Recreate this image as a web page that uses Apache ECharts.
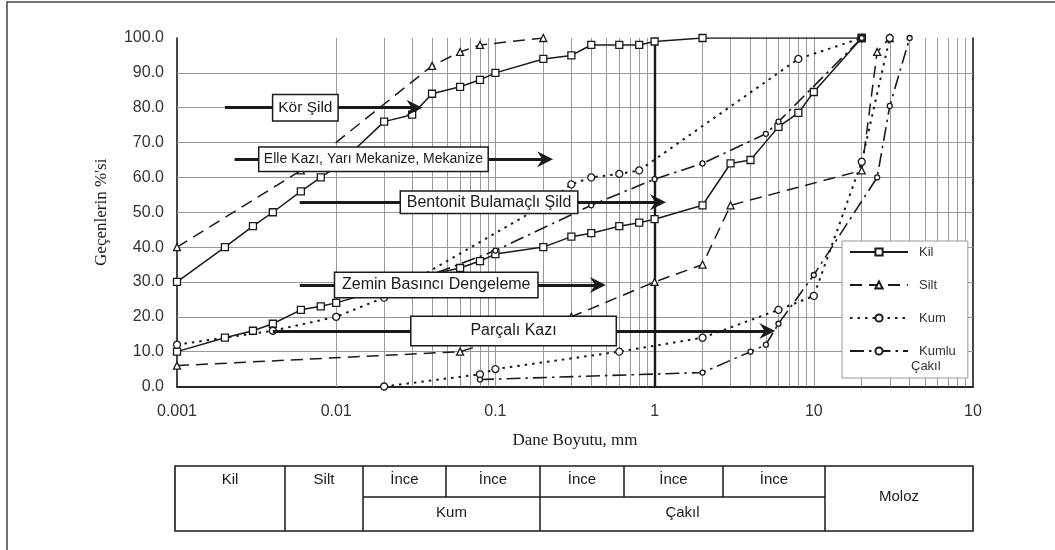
<!DOCTYPE html>
<html><head><meta charset="utf-8">
<script src="https://cdn.jsdelivr.net/npm/echarts@6/dist/echarts.min.js"></script>
<style>html,body{margin:0;padding:0;background:#fff}#c{width:1055px;height:550px}</style>
</head><body><div id="c"></div>
<script>
// ---- tick labels ----
const xTickLabels = ['0.001', '0.01', '0.1', '1', '10', '10'];
const xGridValues = [0.002,0.003,0.004,0.005,0.006,0.007,0.008,0.009,0.01,
  0.02,0.03,0.04,0.05,0.06,0.07,0.08,0.09,0.1,
  0.2,0.3,0.4,0.5,0.6,0.7,0.8,0.9,
  2,3,4,5,6,7,8,9,10,
  20,30,40,50,60,70,80,90];
const yGridValues = [10,20,30,40,50,60,70,80,90];

// ---- series values [size mm, % passing] ----
const kilUpper = [[0.001,30],[0.002,40],[0.003,46],[0.004,50],[0.006,56],[0.008,60],[0.01,63],[0.02,76],[0.03,78],[0.04,84],[0.06,86],[0.08,88],[0.1,90],[0.2,94],[0.3,95],[0.4,98],[0.6,98],[0.8,98],[1,99],[2,100],[20,100]];
const kilLower = [[0.001,10],[0.002,14],[0.003,16],[0.004,18],[0.006,22],[0.008,23],[0.01,24],[0.02,28],[0.03,31],[0.06,34],[0.08,36],[0.1,38],[0.2,40],[0.3,43],[0.4,44],[0.6,46],[0.8,47],[1,48],[2,52],[3,64],[4,65],[6,74.5],[8,78.5],[10,84.5],[20,100]];
const siltUpper = [[0.001,40],[0.006,62],[0.04,92],[0.06,96],[0.08,98],[0.2,100]];
const siltLower = [[0.001,6],[0.06,10],[0.3,20],[1,30],[2,35],[3,52],[20,62],[25,96],[30,100]];
const kumUpper = [[0.001,12],[0.004,16],[0.01,20],[0.02,25.5],[0.2,52],[0.3,58],[0.4,60],[0.6,61],[0.8,62],[8,94],[20,100]];
const kumLower = [[0.02,0],[0.08,3.5],[0.1,5],[0.6,10],[2,14],[6,22],[10,26],[20,64.5],[30,100]];
const kumluUpper = [[0.03,30],[0.1,39],[0.4,52],[1,59.5],[2,64],[5,72.5],[6,76],[20,100]];
const kumluLower = [[0.08,2],[2,4],[4,10],[5,12],[6,18],[10,32],[25,60],[30,80.5],[40,100]];

// ---- annotation bars (method ranges) ----
const methodNames = ['Kör Şild', 'Elle Kazı, Yarı Mekanize, Mekanize', 'Bentonit Bulamaçlı Şild', 'Zemin Basıncı Dengeleme', 'Parçalı Kazı'];
const methodStart = [0.002, 0.0023, 0.0059, 0.0059, 0.004];
const methodEnd = [0.031, 0.205, 1.05, 0.44, 5.1];
const methodLevel = [80, 65.2, 52.9, 29.1, 15.9];
const methodLabelX = [0.0064, 0.01714, 0.0912, 0.0425, 0.130];

// table texts
const tableTop = ['Kil', 'Silt', 'İnce', 'İnce', 'İnce', 'İnce', 'İnce', 'Moloz'];
const tableBottom = ['Kum', 'Çakıl'];

const chart = echarts.init(document.getElementById('c'));
const INK = '#1a1a1a';
const boxW = [64, 228, 176, 202, 204];
const boxH = [25, 23, 21, 24, 28];
const boxFont = [15.5, 14, 16, 16, 16];

function curve(name, data, symbol, size, width, dash) {
  return {
    type: 'line', name: name, data: data, z: 3, animation: false,
    symbol: symbol, symbolSize: size, showSymbol: true,
    lineStyle: { color: INK, width: width, type: dash },
    itemStyle: { color: '#fff', borderColor: INK, borderWidth: 1.3 },
    emphasis: { disabled: true }
  };
}
const dashSilt = [12, 7];
const dashKum = [2.5, 5];
const dashKumlu = [14, 5, 2.5, 5];

const arrowPath = 'path://M5,0 L10,12 L5,8 L0,12 Z';

const gridLines = xGridValues.map(v => ({ xAxis: v }))
  .concat(yGridValues.map(v => ({ yAxis: v })));
gridLines.push({ xAxis: 1, lineStyle: { color: INK, width: 2.4 } });

const colX = [175, 285, 363, 446, 540, 624, 723, 825, 973];
const graphics = [
  { type: 'rect', silent: true, shape: { x: 7, y: 2, width: 1120, height: 700 }, style: { fill: 'none', stroke: '#444', lineWidth: 1.5 } },
  { type: 'rect', silent: true, shape: { x: 175, y: 466, width: 798, height: 65 }, style: { fill: 'none', stroke: INK, lineWidth: 1.6 } },
  { type: 'line', silent: true, shape: { x1: 363, y1: 497, x2: 825, y2: 497 }, style: { stroke: INK, lineWidth: 1.5 } },
  { type: 'text', silent: true, z: 100, x: 911, y: 366, style: { text: 'Çakıl', font: '13px "Liberation Sans"', fill: '#333', align: 'left', verticalAlign: 'middle' } }
];
for (let i = 1; i < colX.length - 1; i++) {
  const bottom = (i === 3 || i === 5 || i === 6) ? 497 : 531;
  graphics.push({ type: 'line', silent: true, shape: { x1: colX[i], y1: 466, x2: colX[i], y2: bottom }, style: { stroke: INK, lineWidth: 1.5 } });
}
for (let i = 0; i < tableTop.length; i++) {
  const cx = (colX[i] + colX[i + 1]) / 2;
  graphics.push({ type: 'text', silent: true, x: cx, y: i === 7 ? 497 : 480,
    style: { text: tableTop[i], font: '15px "Liberation Sans"', fill: INK, align: 'center', verticalAlign: 'middle' } });
}
graphics.push({ type: 'text', silent: true, x: (colX[2] + colX[4]) / 2, y: 513, style: { text: tableBottom[0], font: '15px "Liberation Sans"', fill: INK, align: 'center', verticalAlign: 'middle' } });
graphics.push({ type: 'text', silent: true, x: (colX[4] + colX[7]) / 2, y: 513, style: { text: tableBottom[1], font: '15px "Liberation Sans"', fill: INK, align: 'center', verticalAlign: 'middle' } });

const option = {
  backgroundColor: '#fff',
  animation: false,
  grid: { left: 177, right: 82, top: 38, bottom: 163.5, containLabel: false },
  legend: {
    orient: 'vertical', left: 842, top: 241, z: 8,
    itemWidth: 58, itemHeight: 9, itemGap: 19,
    padding: [4, 12, 20, 7],
    backgroundColor: '#fff', borderColor: '#999', borderWidth: 1,
    textStyle: { fontSize: 13, lineHeight: 14, color: '#333', fontFamily: 'Liberation Sans', padding: [0, 0, 0, 6] },
    data: ['Kil', 'Silt', 'Kum', 'Kumlu'],
    selectedMode: false
  },
  xAxis: [{
    type: 'log', logBase: 10, min: 0.001, max: 100,
    name: 'Dane Boyutu, mm', nameLocation: 'middle', nameGap: 46,
    nameTextStyle: { fontFamily: 'Liberation Serif', fontSize: 17, color: INK },
    axisLine: { show: true, lineStyle: { color: INK, width: 1.6 } },
    axisTick: { show: false },
    splitLine: { show: false },
    axisLabel: { show: true, margin: 17, fontSize: 16, color: '#333', fontFamily: 'Liberation Sans',
      showMinLabel: true, showMaxLabel: true,
      formatter: v => xTickLabels[Math.round(Math.log10(v)) + 3] }
  }, {
    type: 'log', logBase: 10, min: 0.001, max: 100, position: 'top',
    axisLine: { show: true, lineStyle: { color: INK, width: 1.6 } },
    axisTick: { show: false }, axisLabel: { show: false }, splitLine: { show: false }
  }],
  yAxis: [{
    type: 'value', min: 0, max: 100, interval: 10,
    name: "Geçenlerin %'si", nameLocation: 'middle', nameGap: 67, nameRotate: 90,
    nameTextStyle: { fontFamily: 'Liberation Serif', fontSize: 17, color: INK },
    axisLine: { show: true, lineStyle: { color: INK, width: 1.6 } },
    axisTick: { show: false },
    splitLine: { show: false },
    axisLabel: { margin: 13, fontSize: 16, color: '#333', fontFamily: 'Liberation Sans', formatter: v => v.toFixed(1) }
  }, {
    type: 'value', min: 0, max: 100, interval: 10, position: 'right',
    axisLine: { show: true, lineStyle: { color: INK, width: 1.6 } },
    axisTick: { show: false }, axisLabel: { show: false }, splitLine: { show: false }
  }],
  series: [
    {
      type: 'line', name: 'grid', data: [], z: 1, silent: true, animation: false,
      markLine: {
        z: 1, silent: true, animation: false, symbol: ['none', 'none'], label: { show: false },
        emphasis: { disabled: true },
        lineStyle: { color: '#999', width: 1, type: 'solid' },
        data: gridLines
      }
    },
    curve('Kil', kilUpper, 'rect', 7, 1.5, 'solid'),
    curve('Kil', kilLower, 'rect', 7, 1.5, 'solid'),
    curve('Silt', siltUpper, 'triangle', 7, 1.5, dashSilt),
    curve('Silt', siltLower, 'triangle', 7, 1.5, dashSilt),
    curve('Kum', kumUpper, 'circle', 7, 2, dashKum),
    curve('Kum', kumLower, 'circle', 7, 2, dashKum),
    curve('Kumlu', kumluUpper, 'circle', 5, 1.6, dashKumlu),
    curve('Kumlu', kumluLower, 'circle', 5, 1.6, dashKumlu),
    {
      type: 'lines', coordinateSystem: 'cartesian2d', z: 5, silent: true, animation: false,
      symbol: ['none', arrowPath], symbolSize: 16,
      lineStyle: { color: INK, width: 3, opacity: 1, curveness: 0 },
      data: methodNames.map((n, i) => ({ coords: [[methodStart[i], methodLevel[i]], [methodEnd[i], methodLevel[i]]] }))
    },
    {
      type: 'scatter', z: 6, silent: true, animation: false, symbolSize: 1,
      itemStyle: { color: 'rgba(0,0,0,0)', opacity: 1 },
      emphasis: { disabled: true },
      label: {
        show: true, position: 'inside', align: 'center', verticalAlign: 'middle', opacity: 1,
        backgroundColor: '#fff', borderColor: INK, borderWidth: 1.5, padding: 0,
        color: INK, fontFamily: 'Liberation Sans'
      },
      data: methodNames.map((n, i) => ({
        value: [methodLabelX[i], methodLevel[i]],
        label: { formatter: n, width: boxW[i], height: boxH[i], lineHeight: boxH[i], fontSize: boxFont[i] }
      }))
    }
  ],
  graphic: graphics
};
chart.setOption(option);
</script></body></html>
